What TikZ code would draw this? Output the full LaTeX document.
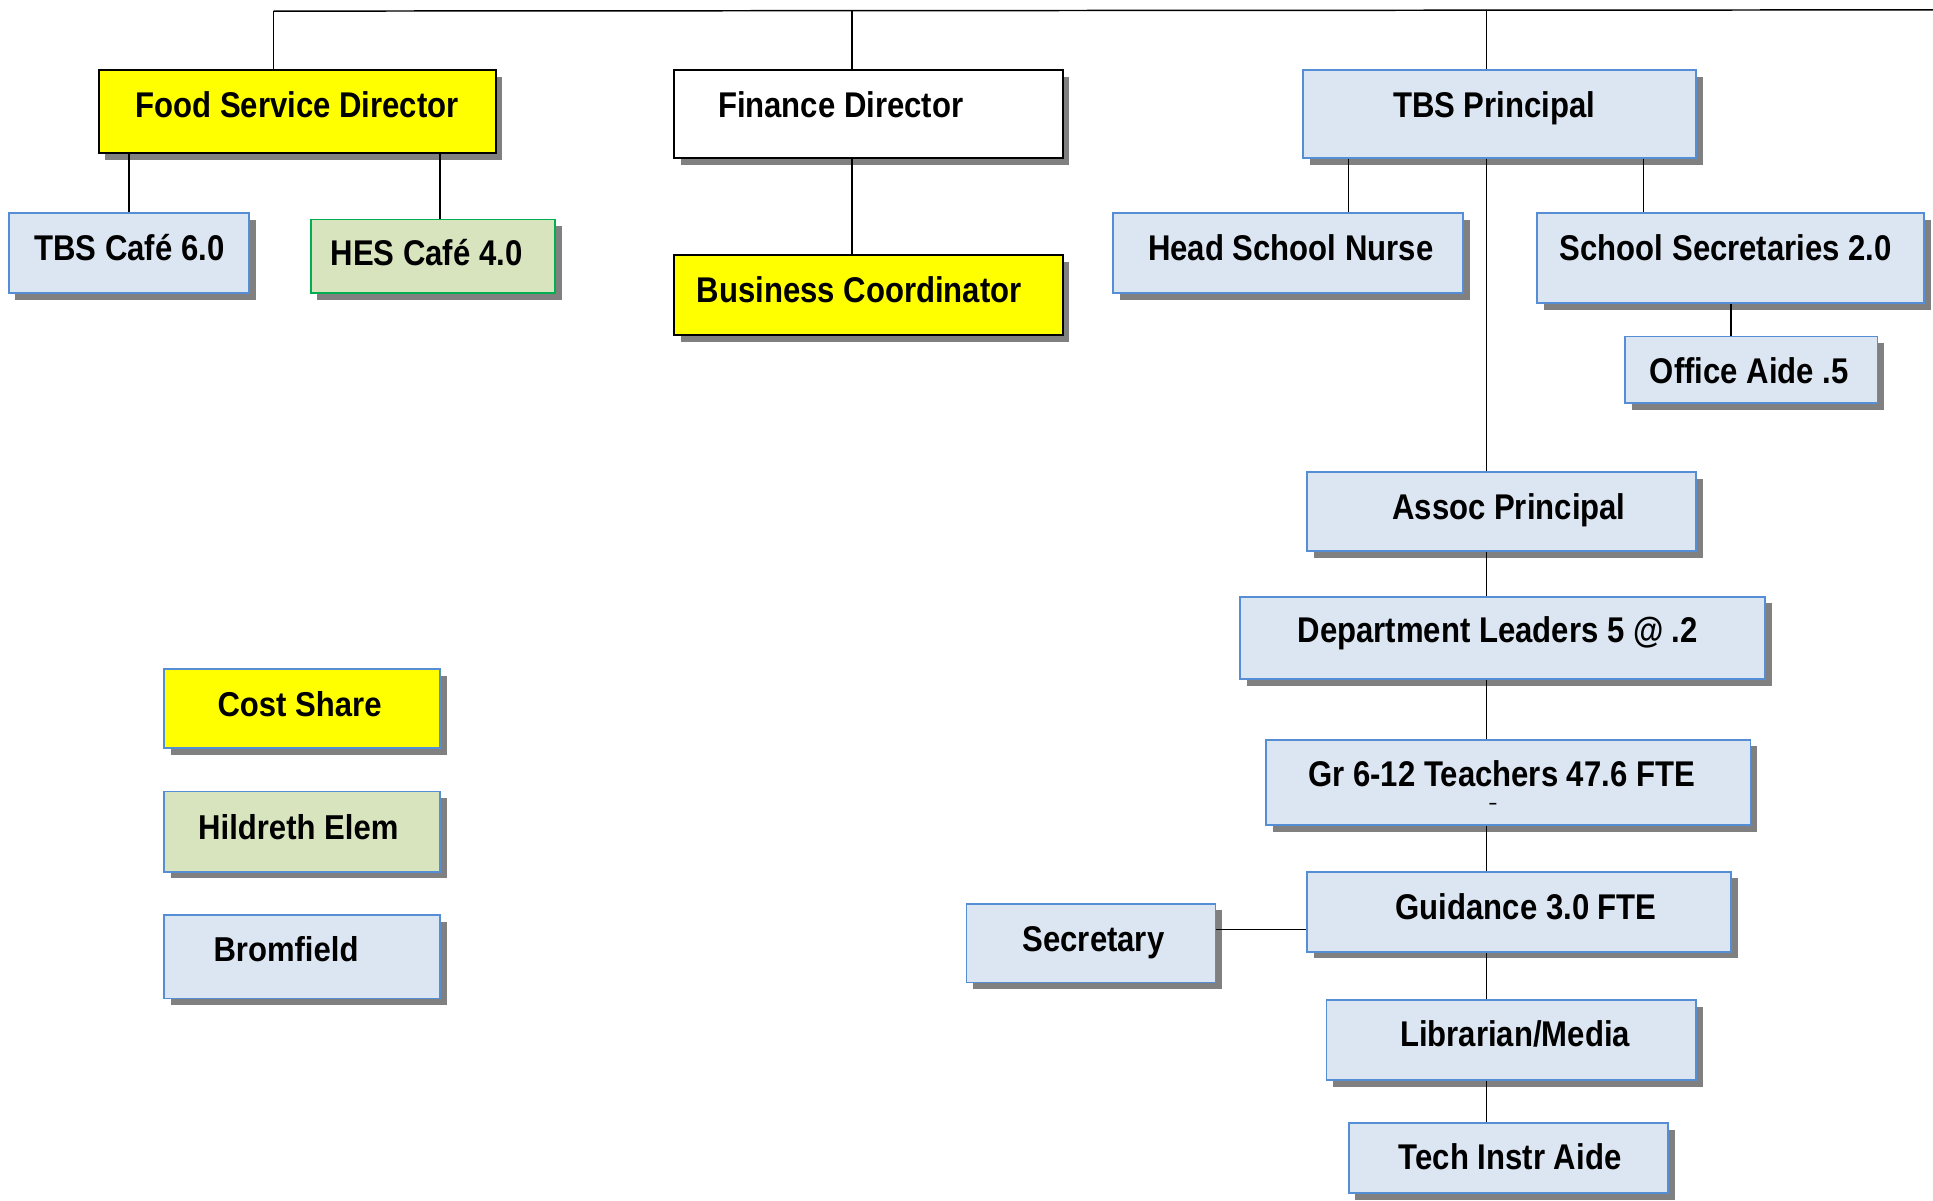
\documentclass[tikz,border=0pt]{standalone}
\usepackage{fontspec}
\setmainfont{Liberation Sans}
\newfontfamily\condfont{Liberation Sans}[FakeStretch=0.87]
\newfontfamily\widefont{Liberation Sans}[FakeStretch=0.9]
\usetikzlibrary{shadows}
\definecolor{boxblue}{HTML}{DCE6F2}
\definecolor{edgeblue}{HTML}{558ED5}
\definecolor{boxgreen}{HTML}{D7E4BD}
\definecolor{edgegreen}{HTML}{00B050}
\definecolor{shadegray}{HTML}{808080}
\definecolor{yel}{HTML}{FFFF00}
\begin{document}
\begin{tikzpicture}[x=1pt,y=-1pt,
  basebox/.style={rectangle, inner sep=0pt, line width=1.5pt,
    general shadow={fill=shadegray, draw=none, shadow xshift=5.5pt, shadow yshift=-5.5pt}},
  bluebox/.style={basebox, fill=boxblue, draw=edgeblue},
  greenbox/.style={basebox, fill=boxgreen, draw=edgegreen},
  yelbox/.style={basebox, fill=yel, draw=black},
  whitebox/.style={basebox, fill=white, draw=black},
  txt/.style={anchor=base, inner sep=0pt, font=\condfont\bfseries\fontsize{29}{34}\selectfont},
  wtxt/.style={anchor=base, inner sep=0pt, font=\widefont\bfseries\fontsize{28}{34}\selectfont},
  conn/.style={line width=1.2pt, draw=black}]
\useasboundingbox (0,0) rectangle (1568,974);

% boxes
\node[yelbox, minimum width=322pt, minimum height=67pt] (fsd) at (241,90.5) {};
\node[bluebox, minimum width=195pt, minimum height=65pt] (tbsc) at (104.5,205.5) {};
\node[greenbox, minimum width=198pt, minimum height=60pt] (hes) at (351,208) {};
\node[whitebox, minimum width=315pt, minimum height=71pt] (fin) at (704.5,92.5) {};
\node[yelbox, minimum width=315pt, minimum height=65pt] (bus) at (704.5,239.5) {};
\node[bluebox, minimum width=319pt, minimum height=71pt] (tbsp) at (1216.5,92.5) {};
\node[bluebox, minimum width=284pt, minimum height=65pt] (nurse) at (1045,205.5) {};
\node[bluebox, minimum width=314pt, minimum height=73pt] (secs) at (1404,209.5) {};
\node[bluebox, minimum width=205pt, minimum height=54pt] (aide) at (1420.5,300) {};
\node[bluebox, minimum width=316pt, minimum height=64pt] (assoc) at (1218,415) {};
\node[bluebox, minimum width=426pt, minimum height=67pt] (dept) at (1219,517.5) {};
\node[bluebox, minimum width=393pt, minimum height=69pt] (gr) at (1223.5,634.5) {};
\node[bluebox, minimum width=344pt, minimum height=65pt] (guid) at (1232,739.5) {};
\node[bluebox, minimum width=202pt, minimum height=64pt] (sec) at (885,765) {};
\node[bluebox, minimum width=300pt, minimum height=65pt] (lib) at (1226,843.5) {};
\node[bluebox, minimum width=259pt, minimum height=57pt] (tech) at (1223.5,939.5) {};
\node[basebox, fill=yel, draw=edgeblue, minimum width=224pt, minimum height=64pt] (cost) at (245,575) {};
\node[basebox, fill=boxgreen, draw=edgeblue, minimum width=224pt, minimum height=65pt] (hild) at (245,674.5) {};
\node[bluebox, minimum width=224pt, minimum height=68pt] (brom) at (245,776) {};

% texts
\node[txt] (fsdT) at (241,95) {Food Service Director};
\node[txt] (tbscT) at (105,211) {TBS Café 6.0};
\node[txt] (hesT) at (346,215) {HES Café 4.0};
\node[txt] (finT) at (682,95) {Finance Director};
\node[txt] (busT) at (697,245) {Business Coordinator};
\node[txt] (tbspT) at (1212,95) {TBS Principal};
\node[txt] (nurseT) at (1047,211) {Head School Nurse};
\node[txt] (secsT) at (1400,211) {School Secretaries 2.0};
\node[txt] (aideT) at (1419,311) {Office Aide .5};
\node[txt] (assocT) at (1224,421) {Assoc Principal};
\node[txt] (deptT) at (1215,521) {Department Leaders 5 @ .2};
\node[txt] (grT) at (1218,638) {Gr 6-12 Teachers 47.6 FTE};
\node[anchor=base, inner sep=0pt, font=\condfont\bfseries\fontsize{13}{13}\selectfont] (grDash) at (1211,656) {–};
\node[txt] (guidT) at (1238,746) {Guidance 3.0 FTE};
\node[txt] (secT) at (887,772) {Secretary};
\node[txt] (libT) at (1229,849) {Librarian/Media};
\node[txt] (techT) at (1225,949) {Tech Instr Aide};
\node[wtxt] (costT) at (243,581) {Cost Share};
\node[wtxt] (hildT) at (242,681) {Hildreth Elem};
\node[wtxt] (bromT) at (232,780) {Bromfield};

% connectors
\coordinate (topL) at (222,9);
\coordinate (topR) at (1568,8);
\coordinate (cFin) at (691,9);
\coordinate (spine) at (1206,9);
\coordinate (cHes) at (357,0);
\coordinate (cNurse) at (1094,0);
\coordinate (cSecs) at (1333,0);
\coordinate (cSecY) at (0,754);
\draw[conn] (topL) -- (topR);
\draw[conn] (topL) -- (topL |- fsd.north);
\draw[conn] (cFin) -- (cFin |- fin.north);
\draw[conn] (spine) -- (spine |- tbsp.north);
\draw[conn] (tbsc.north |- fsd.south) -- (tbsc.north);
\draw[conn] (cHes |- fsd.south) -- (cHes |- hes.north);
\draw[conn] (cFin |- fin.south) -- (cFin |- bus.north);
\draw[conn] (cNurse |- tbsp.south) -- (cNurse |- nurse.north);
\draw[conn] (cSecs |- tbsp.south) -- (cSecs |- secs.north);
\draw[conn] (secs.south) -- (secs.south |- aide.north);
\draw[conn] (spine |- tbsp.south) -- (spine |- assoc.north);
\draw[conn] (spine |- assoc.south) -- (spine |- dept.north);
\draw[conn] (spine |- dept.south) -- (spine |- gr.north);
\draw[conn] (spine |- gr.south) -- (spine |- guid.north);
\draw[conn] (spine |- guid.south) -- (spine |- lib.north);
\draw[conn] (spine |- lib.south) -- (spine |- tech.north);
\draw[conn] (sec.east |- cSecY) -- (guid.west |- cSecY);
\end{tikzpicture}
\end{document}
